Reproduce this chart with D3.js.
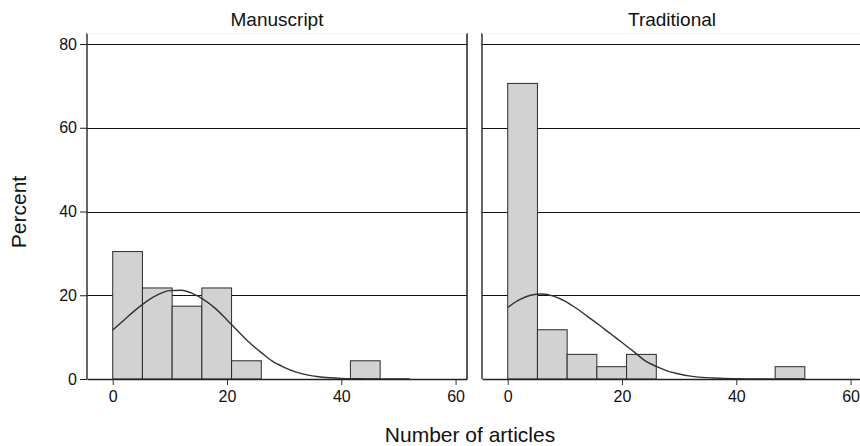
<!DOCTYPE html>
<html>
<head>
<meta charset="utf-8">
<script src="https://cdn.jsdelivr.net/npm/d3@7"></script>
<style>
  html, body { margin: 0; padding: 0; background: #fff; }
  svg { display: block; font-family: "Liberation Sans", Arial, Helvetica, sans-serif; }
</style>
</head>
<body>
<svg id="chart" width="860" height="446"></svg>
<script>
// ---- data ----
const panels = ["Manuscript", "Traditional"];
const binStart = 0;
const binWidth = 5.2;
const manuscriptPct = [30.43, 21.74, 17.39, 21.74, 4.35, 0, 0, 0, 4.35, 0];
const traditionalPct = [70.59, 11.76, 5.88, 2.94, 5.88, 0, 0, 0, 0, 2.94];
// normal-density overlay (percent at x)
const curveX = [0, 2, 4, 6, 8, 10, 12, 14, 16, 18, 20, 22, 24, 26, 28, 30, 32, 34, 36, 38, 40, 44, 48, 52];
const manuscriptCurve = [11.7, 14.1, 16.5, 18.6, 20.2, 21.1, 21.2, 20.4, 18.9, 16.8, 14.1, 11.3, 8.6, 6.3, 4.2, 2.8, 1.7, 1.0, 0.55, 0.3, 0.15, 0.04, 0.01, 0];
const traditionalCurve = [17.1, 18.9, 20.0, 20.3, 19.8, 18.6, 16.9, 14.9, 12.9, 10.8, 8.7, 6.6, 4.4, 3.0, 1.9, 1.2, 0.7, 0.4, 0.25, 0.15, 0.08, 0.02, 0.005, 0];
const xTicks = [0, 20, 40, 60];
const yTicks = [0, 20, 40, 60, 80];
const xTitle = "Number of articles";
const yTitle = "Percent";

const series = [
  { name: panels[0], pct: manuscriptPct, curve: manuscriptCurve },
  { name: panels[1], pct: traditionalPct, curve: traditionalCurve }
];

// ---- layout ----
const svg = d3.select("#chart");
const panelW = 380;
const panelLefts = [87, 482];
const plotTop = 33, plotBottom = 379;

const y = d3.scaleLinear().domain([0, 80]).range([379, 44]);

series.forEach((s, i) => {
  const left = panelLefts[i];
  const x = d3.scaleLinear().domain([-4.5, 62]).range([left, left + panelW]);
  const g = svg.append("g");

  // gridlines
  g.selectAll("line.grid").data(yTicks.filter(d => d > 0)).enter().append("line")
    .attr("class", "grid")
    .attr("x1", left).attr("x2", left + panelW)
    .attr("y1", d => Math.round(y(d)) + 0.5).attr("y2", d => Math.round(y(d)) + 0.5)
    .attr("stroke", "#111").attr("stroke-width", 1);

  // bars
  const bins = s.pct.map((v, k) => ({ x0: binStart + k * binWidth, x1: binStart + (k + 1) * binWidth, v }));
  g.selectAll("rect.bar").data(bins.filter(b => b.v > 0)).enter().append("rect")
    .attr("class", "bar")
    .attr("x", b => x(b.x0))
    .attr("y", b => y(b.v))
    .attr("width", b => x(b.x1) - x(b.x0))
    .attr("height", b => y(0) - y(b.v))
    .attr("fill", "#d2d2d2")
    .attr("stroke", "#2a2a2a")
    .attr("stroke-width", 1);

  // normal curve
  const line = d3.line().x((d, k) => x(curveX[k])).y(d => y(d)).curve(d3.curveMonotoneX);
  g.append("path").datum(s.curve).attr("d", line)
    .attr("fill", "none").attr("stroke", "#333").attr("stroke-width", 1.4);

  // frame: left axis, right border, top hairline
  g.append("line").attr("x1", left).attr("x2", left).attr("y1", plotTop).attr("y2", plotBottom)
    .attr("stroke", "#333").attr("stroke-width", 1.5);
  g.append("line").attr("x1", left + panelW).attr("x2", left + panelW).attr("y1", plotTop).attr("y2", plotBottom)
    .attr("stroke", "#222").attr("stroke-width", 1.5);
  g.append("line").attr("x1", left).attr("x2", left + panelW).attr("y1", plotTop + 0.5).attr("y2", plotTop + 0.5)
    .attr("stroke", "#f2f2f2").attr("stroke-width", 1);

  // x axis
  const xAxis = d3.axisBottom(x).tickValues(xTicks).tickSize(6).tickPadding(6).tickSizeOuter(0);
  const xa = g.append("g").attr("transform", `translate(0,${plotBottom})`).call(xAxis);
  xa.select(".domain").attr("stroke", "#222").attr("stroke-width", 1.5);
  xa.selectAll(".tick line").attr("stroke", "#333").attr("stroke-width", 1);
  xa.selectAll(".tick text").attr("font-size", 16).attr("fill", "#111")
    .attr("font-family", "'Liberation Sans', Arial, sans-serif");

  // panel title
  svg.append("text").attr("x", left + panelW / 2).attr("y", 25.5)
    .attr("text-anchor", "middle").attr("font-size", 19).attr("fill", "#111").text(s.name);

  if (i === 0) {
    const yAxis = d3.axisLeft(y).tickValues(yTicks).tickSize(7).tickPadding(3).tickSizeOuter(0);
    const ya = g.append("g").attr("transform", `translate(${left},0)`).call(yAxis);
    ya.select(".domain").remove();
    ya.selectAll(".tick line").attr("stroke", "#222").attr("stroke-width", 1);
    ya.selectAll(".tick text").attr("font-size", 16).attr("fill", "#111")
      .attr("font-family", "'Liberation Sans', Arial, sans-serif");
  }
});

// axis titles
svg.append("text").attr("x", 470).attr("y", 442).attr("text-anchor", "middle")
  .attr("font-size", 21).attr("fill", "#111").text(xTitle);
svg.append("text").attr("transform", "translate(26,212) rotate(-90)").attr("text-anchor", "middle")
  .attr("font-size", 21).attr("fill", "#111").text(yTitle);
</script>
</body>
</html>
